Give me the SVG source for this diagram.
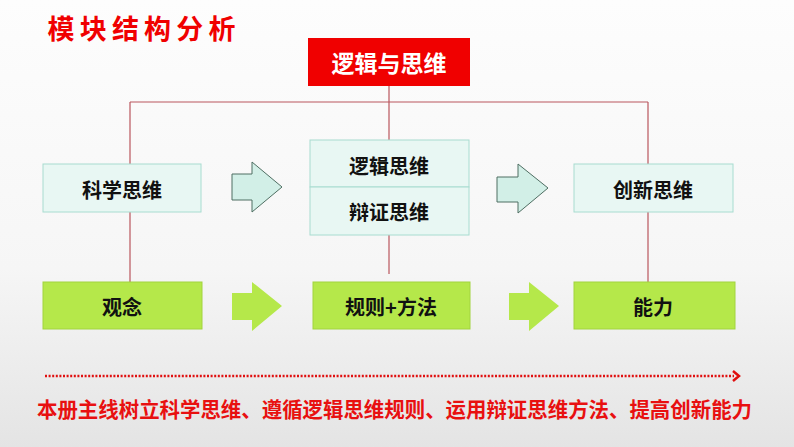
<svg xmlns="http://www.w3.org/2000/svg" width="794" height="447" viewBox="0 0 794 447">
<defs>
<linearGradient id="bg" x1="0" y1="0" x2="0" y2="1">
<stop offset="0" stop-color="#FDFDFD"/>
<stop offset="0.6" stop-color="#F6F6F6"/>
<stop offset="1" stop-color="#E4E4E4"/>
</linearGradient>
</defs>
<style>
.t{font-family:"Noto Sans CJK SC","Noto Sans",sans-serif;font-weight:700;text-anchor:middle;dominant-baseline:central}
.mint{fill:#E8F7F3;stroke:#A8DCD0;stroke-width:1}
.green{fill:#B5E84A;stroke:#A2D43E;stroke-width:1}
.marrow{fill:#D2EFE7;stroke:#4E6E62;stroke-width:1}
.garrow{fill:#B5E84A}
.ln{stroke:#B9565E;stroke-width:1.2;fill:none}
</style>
<rect width="794" height="447" fill="url(#bg)"/>
<text x="144" y="27" class="t" font-size="27" font-weight="900" fill="#F00000" letter-spacing="5" textLength="193" lengthAdjust="spacing">模块结构分析</text>
<g id="connectors">
<path class="ln" d="M389 86V140M130 102H648M130 102V164M648 102V164M130 212V282M648 212V282M389 235V274"/>
</g>
<g id="top">
<rect x="308" y="38" width="162" height="48" fill="#F00000"/>
<text x="389" y="62" class="t" font-size="23" fill="#FFFFFF">逻辑与思维</text>
</g>
<g id="kexue">
<rect class="mint" x="43" y="164" width="158" height="48"/>
<text x="122" y="189" class="t" font-size="20" fill="#111">科学思维</text>
</g>
<g id="middle">
<rect class="mint" x="310" y="140" width="159" height="47"/>
<rect class="mint" x="310" y="187" width="159" height="48"/>
<text x="389" y="165" class="t" font-size="20" fill="#111">逻辑思维</text>
<text x="389" y="211" class="t" font-size="20" fill="#111">辩证思维</text>
</g>
<g id="chuangxin">
<rect class="mint" x="574" y="164" width="159" height="48"/>
<text x="653" y="189" class="t" font-size="20" fill="#111">创新思维</text>
</g>
<g id="arrow1">
<path class="marrow" d="M232 174H252V162L282 187L252 212V200H232Z"/>
</g>
<g id="arrow2">
<path class="marrow" d="M497 177H518V164L548 188L518 213V202H497Z"/>
</g>
<g id="guannian">
<rect class="green" x="43" y="282" width="159" height="47"/>
<text x="122" y="306" class="t" font-size="20" fill="#111">观念</text>
</g>
<g id="guize">
<rect class="green" x="313" y="282" width="157" height="47"/>
<text x="391" y="306" class="t" font-size="20" fill="#111">规则+方法</text>
</g>
<g id="nengli">
<rect class="green" x="574" y="282" width="161" height="47"/>
<text x="653" y="306" class="t" font-size="20" fill="#111">能力</text>
</g>
<g id="garrow1">
<path class="garrow" d="M232 293H252V282L282 306L252 331V320H232Z"/>
</g>
<g id="garrow2">
<path class="garrow" d="M509 293H529V282L559 306L529 331V320H509Z"/>
</g>
<g id="bottom">
<line x1="45" y1="376" x2="734" y2="376" stroke="#E01010" stroke-width="2.5" stroke-dasharray="2 1.6"/>
<path d="M733 371L739 376L733 381" fill="none" stroke="#E01010" stroke-width="2.5"/>
<text x="394.5" y="408" class="t" font-size="21" fill="#E81010" textLength="715" lengthAdjust="spacingAndGlyphs">本册主线树立科学思维、遵循逻辑思维规则、运用辩证思维方法、提高创新能力</text>
</g>
</svg>
